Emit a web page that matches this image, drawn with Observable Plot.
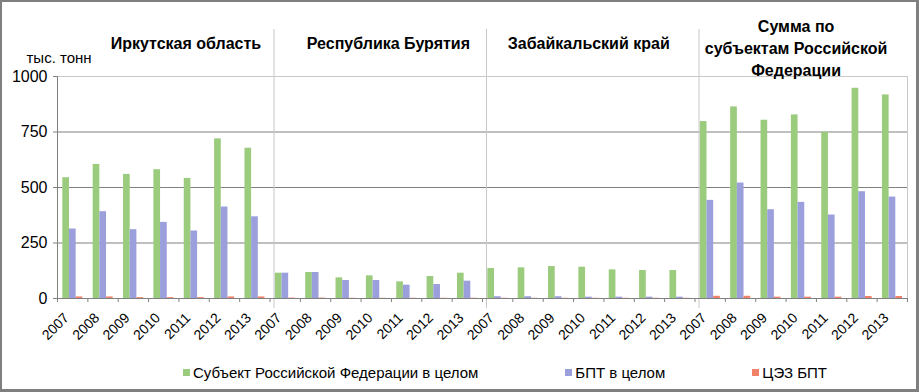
<!DOCTYPE html>
<html>
<head>
<meta charset="utf-8">
<script src="https://cdn.jsdelivr.net/npm/d3@7"></script>
<script src="https://cdn.jsdelivr.net/npm/@observablehq/plot@0.6"></script>
<style>
  html, body { margin: 0; padding: 0; background: #fff; }
  #wrap { position: relative; width: 919px; height: 392px; background: #fff; overflow: hidden;
          font-family: "Liberation Sans", Arial, sans-serif; }
  #wrap svg { position: absolute; left: 0; top: 0; }
  #legend { position: absolute; top: 364px; left: 183px; height: 16px; display: flex; align-items: center;
            gap: 87px; font-size: 15px; color: #000; }
  .item { display: flex; align-items: center; white-space: nowrap; }
  .sw { width: 7px; height: 7px; margin-right: 3px; display: inline-block; }
  #border { position: absolute; left: 0; top: 0; right: 0; bottom: 0; box-sizing: border-box;
            border: 2px solid #7f7f7f; border-right-width: 3px; border-bottom-width: 3px; pointer-events: none; }
</style>
</head>
<body>
<div id="wrap"><div id="legend"></div><div id="border"></div></div>
<script>
// ---- data ----
const years = [2007, 2008, 2009, 2010, 2011, 2012, 2013];
const regions = ["Иркутская область", "Республика Бурятия", "Забайкальский край", "Сумма по\nсубъектам Российской\nФедерации"];
const seriesNames = ["Субъект Российской Федерации в целом", "БПТ в целом", "ЦЭЗ БПТ"];
const subjectTotal = [
  [544, 604, 559, 580, 541, 719, 677],
  [114, 117, 93, 102, 75, 99, 114],
  [135, 138, 144, 141, 129, 126, 126],
  [797, 863, 803, 827, 749, 947, 917]
];
const bptTotal = [
  [313, 391, 310, 343, 304, 412, 368],
  [114, 117, 81, 81, 60, 63, 78],
  [8, 8, 8, 6, 6, 6, 6],
  [442, 520, 400, 433, 376, 481, 457]
];
const cezBpt = [
  [7, 7, 4, 4, 4, 7, 7],
  [2, 2, 1, 1, 1, 1, 1],
  [1, 1, 1, 1, 1, 1, 1],
  [10, 10, 6, 6, 6, 9, 9]
];
const yTicks = [0, 250, 500, 750, 1000];
const colors = ["#9bcb7d", "#9b9fdc", "#f0826a"];

// ---- build table ----
const all = [subjectTotal, bptTotal, cezBpt];
const rows = [];
regions.forEach((r, g) => years.forEach((yr, k) => all.forEach((ser, s) => {
  rows.push({i: g * years.length + k, s, series: seriesNames[s], v: ser[g][k]});
})));
const nCat = regions.length * years.length;
const pad = 0.175, bw = 0.22;
const titleShift = [0.73, 0.4, 0, -0.17];
const titles = regions.map((name, g) => ({name, g, x: g * years.length + years.length / 2 + titleShift[g]}));

const chart = Plot.plot({
  width: 919,
  height: 392,
  marginLeft: 57,
  marginRight: 12,
  marginTop: 76,
  marginBottom: 94,
  style: {fontFamily: "'Liberation Sans', Arial, sans-serif", fontSize: "14px", color: "#000", background: "transparent"},
  x: {domain: [0, nCat]},
  y: {domain: [0, 1000]},
  color: {domain: seriesNames, range: colors},
  marks: [
    Plot.ruleY(yTicks.filter(t => t > 0 && t < 1000), {stroke: "#808080", strokeWidth: 1}),
    Plot.frame({stroke: "#c8c8c8"}),
    Plot.rectY(rows, {
      x1: d => d.i + pad + d.s * bw,
      x2: d => d.i + pad + (d.s + 1) * bw,
      y: "v",
      fill: "series"
    }),
    Plot.ruleX(d3.range(1, regions.length).map(g => g * years.length), {
      stroke: "#c8c8c8", dx: 4, insetTop: -47, insetBottom: -10
    }),
    Plot.ruleY([0], {stroke: "#808080"}),
    Plot.ruleX([0], {stroke: "#808080"}),
    Plot.axisY({ticks: yTicks, tickSize: 4, tickPadding: 6, fontSize: 16, stroke: "#808080", fill: "#000",
      tickFormat: d => String(d), label: null}),
    Plot.axisX({ticks: d3.range(nCat + 1), tickSize: 4, tickFormat: () => "", stroke: "#808080", label: null}),
    Plot.axisX({
      ticks: d3.range(nCat).map(i => i + 0.5),
      tickSize: 0, tickPadding: 17, tickRotate: -45, dx: -6,
      tickFormat: t => String(years[Math.floor(t) % years.length]),
      fontSize: 14, fill: "#000", label: null
    }),
    Plot.text(titles.filter(d => d.g < 3), {
      x: "x", text: "name", frameAnchor: "top", dy: -33, lineAnchor: "middle",
      fontSize: 16, fontWeight: "bold", fill: "#000"
    }),
    Plot.text(titles.filter(d => d.g === 3), {
      x: "x", text: "name", frameAnchor: "top", dy: -29.5, lineAnchor: "middle", lineHeight: 1.36,
      fontSize: 16, fontWeight: "bold", fill: "#000"
    }),
    Plot.text(["тыс. тонн"], {frameAnchor: "top-left", dx: -31, dy: -24, textAnchor: "start",
      lineAnchor: "top", fontSize: 15, fill: "#000"})
  ]
});
const wrap = document.getElementById("wrap");
wrap.insertBefore(chart, wrap.firstChild);

const legend = document.getElementById("legend");
seriesNames.forEach((name, s) => {
  const it = document.createElement("div");
  it.className = "item";
  const sw = document.createElement("span");
  sw.className = "sw";
  sw.style.background = colors[s];
  it.appendChild(sw);
  it.appendChild(document.createTextNode(name));
  legend.appendChild(it);
});
</script>
</body>
</html>
